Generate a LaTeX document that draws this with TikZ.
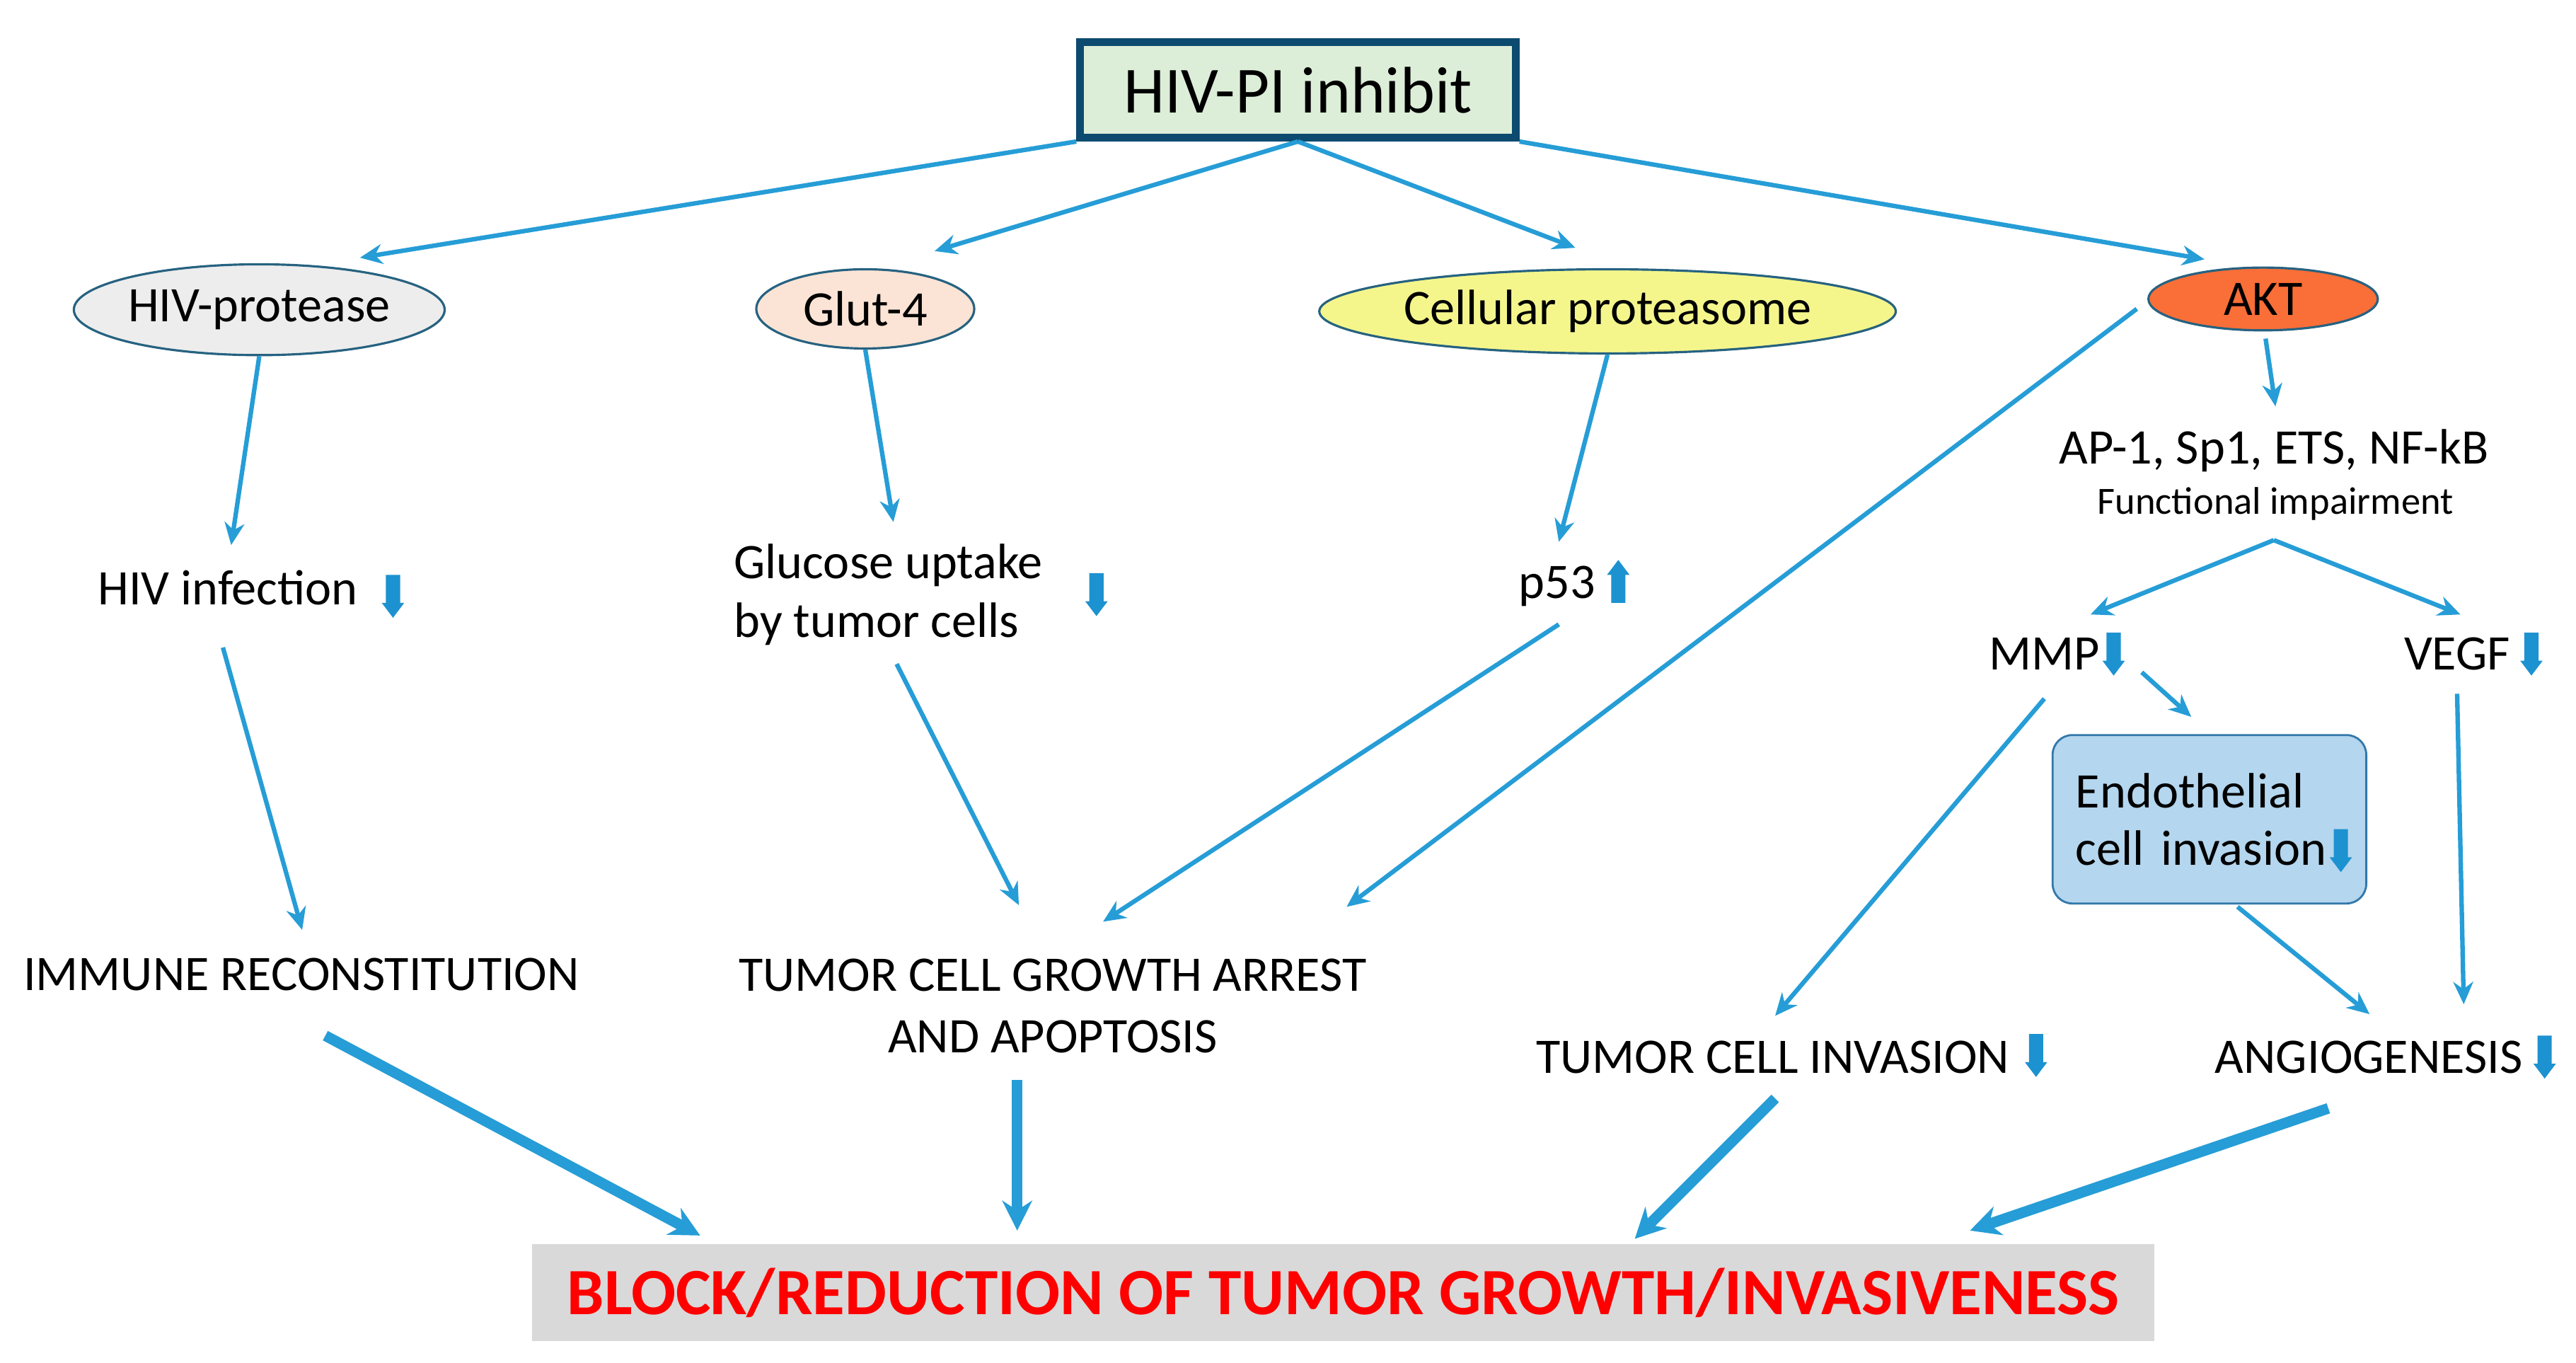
\documentclass[tikz,border=0pt]{standalone}
\usepackage{fontspec}
\setmainfont{Carlito}
\usetikzlibrary{arrows.meta,calc,shapes.geometric}
\definecolor{arrblue}{RGB}{38,157,214}
\definecolor{blkblue}{RGB}{29,146,208}
\definecolor{topborder}{RGB}{12,74,112}
\definecolor{topfill}{RGB}{221,238,216}
\definecolor{ellborder}{RGB}{38,98,128}
\definecolor{protfill}{RGB}{244,246,140}
\definecolor{glutfill}{RGB}{251,228,214}
\definecolor{hivfill}{RGB}{237,237,237}
\definecolor{aktfill}{RGB}{250,110,55}
\definecolor{endofill}{RGB}{180,214,238}
\definecolor{endoborder}{RGB}{50,120,170}
\definecolor{blockfill}{RGB}{217,217,217}
\begin{document}
\begin{tikzpicture}[x=0.02334cm,y=-0.02334cm,
  conn/.style={draw=arrblue, line width=1.8pt, -{Stealth[length=9pt,width=8pt]}},
  bigconn/.style={draw=arrblue, line width=4.3pt, -{Stealth[length=12pt,width=12pt]}},
  txt/.style={font=\fontsize{20}{23.5}\selectfont, inner sep=0pt},
  ell/.style={ellipse, draw=ellborder, line width=0.9pt, inner sep=0pt, font=\fontsize{20}{24}\selectfont},
  blkdn/.pic={\fill[blkblue] (-4.3,-13) -- (4.3,-13) -- (4.3,4) -- (6.8,4) -- (0,13) -- (-6.8,4) -- (-4.3,4) -- cycle;},
  blkup/.pic={\fill[blkblue] (-4.3,13) -- (4.3,13) -- (4.3,-4) -- (6.8,-4) -- (0,-13) -- (-6.8,-4) -- (-4.3,-4) -- cycle;}
]
\useasboundingbox (0,0) rectangle (1560,825);

% top box
\node[draw=topborder, line width=3pt, fill=topfill, minimum width=6.16cm, minimum height=1.35cm,
      font=\fontsize{26.5}{30}\selectfont, inner sep=0pt] (top) at (786,54.5) {HIV-PI inhibit};

% ellipses
\node[ell, fill=hivfill, minimum width=5.135cm, minimum height=1.284cm] (hivp) at (157,187.5) {HIV-protease};
\node[ell, fill=glutfill, minimum width=3.081cm, minimum height=1.12cm] (glut) at (524,187) {Glut-4};
\node[ell, fill=protfill, minimum width=7.819cm, minimum height=1.19cm] (prot) at (973.5,188.5) {Cellular proteasome};
\node[ell, fill=aktfill, minimum width=3.244cm, minimum height=0.887cm] (akt) at (1370.5,181) {AKT};

% second level texts
\node[txt] (hivinf) at (138,356) {HIV infection};
\pic at (238,361) {blkdn};
\node[txt, align=left] (glucose) at (538,360) {Glucose uptake\\by tumor cells};
\pic at (664,360) {blkdn};
\node[txt] (p53) at (943,355) {p53};
\pic at (980,352) {blkup};
\node[txt] (ap1) at (1377,273) {AP-1, Sp1, ETS, NF-kB};
\node[txt, font=\fontsize{15.5}{18}\selectfont] (func) at (1378,305) {Functional impairment};

\node[txt] (mmp) at (1238,396) {MMP};
\pic at (1280,396) {blkdn};
\node[txt] (vegf) at (1488,396) {VEGF};
\pic at (1533,396) {blkdn};

\node[draw=endoborder, line width=0.8pt, fill=endofill, rounded corners=0.28cm,
      minimum width=4.435cm, minimum height=2.381cm, text width=3.78cm, align=left,
      font=\fontsize{20}{23}\selectfont, inner sep=0pt] (endo) at (1338,496)
      {Endothelial\\cell invasion};
\pic at ($(endo.east)+(-16,19)$) {blkdn};

% lower texts
\node[txt] (immune) at (182.5,590) {IMMUNE RECONSTITUTION};
\node[txt, align=center, font=\fontsize{20}{24.6}\selectfont] (growth) at (637.5,609) {TUMOR CELL GROWTH ARREST\\AND APOPTOSIS};
\node[txt] (invasion) at (1073.5,640) {TUMOR CELL INVASION};
\pic at (1233,639) {blkdn};
\node[txt] (angio) at (1434.5,640) {ANGIOGENESIS};
\pic at (1541,640) {blkdn};

% bottom box
\node[fill=blockfill, minimum width=22.94cm, minimum height=1.377cm, inner sep=0pt,
      text=red, font=\fontsize{26.6}{30}\selectfont\bfseries] (block) at (813.5,782.5)
      {BLOCK/REDUCTION OF TUMOR GROWTH/INVASIVENESS};

% connectors from top
\draw[conn] (top.south west) -- ($(hivp.center)+(61,-31.5)$);
\draw[conn] (top.south) -- ($(glut.center)+(42,-35)$);
\draw[conn] (top.south) -- ($(prot.center)+(-19.5,-38.5)$);
\draw[conn] (top.south east) -- ($(akt.center)+(-35.5,-24)$);

% ellipses down
\draw[conn] (hivp.south) -- ($(hivinf.center)+(2,-26)$);
\draw[conn] (glut.south) -- ($(glucose.center)+(3,-44)$);
\draw[conn] (prot.south) -- ($(p53.center)+(1,-27)$);
\draw[conn] ($(akt.center)+(1.5,24)$) -- ($(ap1.center)+(1,-27)$);
\draw[conn] ($(akt.center)+(-76.5,6)$) -- ($(growth.center)+(178,-60)$);

% to growth arrest
\draw[conn] ($(p53.center)+(1,23)$) -- ($(growth.center)+(30.5,-51)$);
\draw[conn] ($(glucose.center)+(5,42)$) -- ($(growth.center)+(-20.5,-61)$);
\draw[conn] ($(hivinf.center)+(-3,36)$) -- ($(immune.center)+(0.5,-27)$);

% AKT branch
\draw[conn] ($(func.center)+(-1,22)$) -- ($(mmp.center)+(28,-24)$);
\draw[conn] ($(func.center)+(-1,22)$) -- ($(vegf.center)+(2,-24)$);
\draw[conn] ($(mmp.center)+(59,11)$) -- ($(endo.center)+(-11,-62)$);
\draw[conn] ($(mmp.center)+(0,27)$) -- ($(invasion.center)+(1.5,-25)$);
\draw[conn] ($(endo.center)+(17,53)$) -- ($(angio.center)+(0.5,-26)$);
\draw[conn] ($(vegf.center)+(0,24)$) -- ($(angio.center)+(57.5,-32)$);

% thick arrows to block
\draw[bigconn] ($(immune.center)+(14.5,37)$) -- ($(block.center)+(-389.5,-34.5)$);
\draw[bigconn] ($(growth.center)+(-21.5,45)$) -- ($(block.center)+(-197.5,-37.5)$);
\draw[bigconn] ($(invasion.center)+(1.5,25)$) -- ($(block.center)+(176.5,-32.5)$);
\draw[bigconn] ($(angio.center)+(-24.5,31)$) -- ($(block.center)+(379.5,-37.5)$);
\end{tikzpicture}
\end{document}
